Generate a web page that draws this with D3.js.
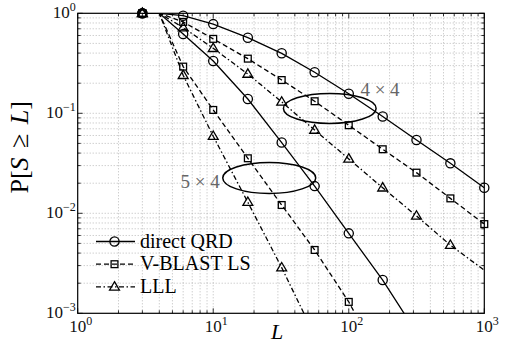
<!DOCTYPE html>
<html>
<head>
<meta charset="utf-8">
<script src="https://cdn.jsdelivr.net/npm/d3@7"></script>
<style>
  body { margin: 0; background: #fff; }
</style>
</head>
<body>
<div id="chart"></div>
<script>
// list sizes L where the curves are evaluated
const Lvals = [3, 4, 6, 10, 18, 32, 56, 100, 178, 316, 562, 1000];
const markerL = [3, 6, 10, 18, 32, 56, 100, 178, 316, 562, 1000];

// P[S >= L] (null = below the plotted range)
const qrd44 = [1, 1, 0.946, 0.78, 0.57, 0.398, 0.257, 0.157, 0.093, 0.054, 0.0316, 0.018];
const vb44  = [1, 1, 0.82, 0.555, 0.352, 0.215, 0.132, 0.076, 0.0437, 0.0255, 0.0141, 0.0078];
const lll44 = [1, 1, 0.72, 0.447, 0.247, 0.13, 0.068, 0.035, 0.018, 0.0094, 0.0048, 0.0027];
const qrd54 = [1, 1, 0.62, 0.333, 0.139, 0.051, 0.0187, 0.0063, 0.00215, 0.00064, null, null];
const vb54  = [1, 1, 0.293, 0.108, 0.0355, 0.0121, 0.0043, 0.0013, 0.00031, null, null, null];
const lll54 = [1, 1, 0.24, 0.059, 0.0129, 0.00286, 0.0006, null, null, null, null, null];

const series = [
  {name: "direct QRD",  values: qrd44, dash: null,        mark: "circle",   marks: markerL},
  {name: "V-BLAST LS",  values: vb44,  dash: "5,3",       mark: "square",   marks: markerL},
  {name: "LLL",         values: lll44, dash: "5,2.5,1.5,2.5", mark: "triangle", marks: markerL.slice(0, -1)},
  {name: "direct QRD",  values: qrd54, dash: null,        mark: "circle",   marks: markerL},
  {name: "V-BLAST LS",  values: vb54,  dash: "5,3",       mark: "square",   marks: markerL},
  {name: "LLL",         values: lll54, dash: "5,2.5,1.5,2.5", mark: "triangle", marks: markerL}
];

// group annotations: centre (L, P), half axes in decades, label position (L, P)
const groups = [
  {label: "4 \u00d7 4", L: 72.4, P: 0.112, rx: 0.342, ry: 0.15, tx: 170, ty: 0.171},
  {label: "5 \u00d7 4", L: 25.9, P: 0.0226, rx: 0.343, ry: 0.155, tx: 8.0, ty: 0.0207}
];

const xTicks = [1, 10, 100, 1000];
const yTicks = [1e-3, 1e-2, 1e-1, 1];

const width = 509, height = 345;
const margin = {top: 13.3, right: 24.7, bottom: 31.7, left: 77.7};
const serif = "Liberation Serif";

const svg = d3.select("#chart").append("svg")
  .attr("width", width).attr("height", height);

function txt(g) {
  return g.append("text").style("font-family", serif);
}

const x = d3.scaleLog().domain([1, 1000]).range([margin.left, width - margin.right]);
const y = d3.scaleLog().domain([1e-3, 1]).range([height - margin.bottom, margin.top]);

const x0 = x.range()[0], x1 = x.range()[1];
const y0 = y.range()[0], y1 = y.range()[1];

// minor + major positions
const xAll = [], yAll = [];
for (let d = 1; d < 1000; d *= 10) for (let k = 1; k < 10; k++) xAll.push(d * k);
xAll.push(1000);
for (let d = 1e-3; d < 0.99; d *= 10) for (let k = 1; k < 10; k++) yAll.push(d * k);
yAll.push(1);

// grid
const grid = svg.append("g").attr("stroke", "#aaa").attr("stroke-width", 0.8)
  .attr("stroke-dasharray", "1,2");
grid.selectAll(".gx").data(xAll.slice(1, -1)).enter().append("line")
  .attr("x1", d => x(d)).attr("x2", d => x(d)).attr("y1", y0).attr("y2", y1);
grid.selectAll(".gy").data(yAll.slice(1, -1)).enter().append("line")
  .attr("y1", d => y(d)).attr("y2", d => y(d)).attr("x1", x0).attr("x2", x1);

// ticks inside on all sides
const isMajor = v => Math.abs(Math.log10(v) - Math.round(Math.log10(v))) < 1e-6;
const tk = svg.append("g").attr("stroke", "#000").attr("stroke-width", 0.8);
xAll.forEach(v => {
  const len = isMajor(v) ? 5 : 3;
  tk.append("line").attr("x1", x(v)).attr("x2", x(v)).attr("y1", y0).attr("y2", y0 - len);
  tk.append("line").attr("x1", x(v)).attr("x2", x(v)).attr("y1", y1).attr("y2", y1 + len);
});
yAll.forEach(v => {
  const len = isMajor(v) ? 5 : 3;
  tk.append("line").attr("y1", y(v)).attr("y2", y(v)).attr("x1", x0).attr("x2", x0 + len);
  tk.append("line").attr("y1", y(v)).attr("y2", y(v)).attr("x1", x1).attr("x2", x1 - len);
});

// tick labels
const xl = svg.append("g").attr("font-size", 17).attr("text-anchor", "middle").attr("fill", "#111");
xTicks.forEach(v => {
  const t = txt(xl).attr("x", x(v) + 3).attr("y", y0 + 19);
  t.append("tspan").text("10");
  t.append("tspan").attr("dy", -7).attr("font-size", 12).text(Math.round(Math.log10(v)));
});
const yl = svg.append("g").attr("font-size", 17).attr("text-anchor", "end").attr("fill", "#111");
yTicks.forEach(v => {
  const e = Math.round(Math.log10(v));
  const t = txt(yl).attr("x", x0 - 2).attr("y", y(v) + 5);
  t.append("tspan").text("10");
  t.append("tspan").attr("dy", -7).attr("font-size", 12).text(e === 0 ? "0" : "\u2212" + (-e));
});

// axis titles
txt(svg).attr("x", (x0 + x1) / 2 - 4).attr("y", 339)
  .attr("text-anchor", "middle").attr("font-size", 22).attr("font-style", "italic").text("L");
const yt = txt(svg).attr("transform", `translate(28,${(y0 + y1) / 2 - 16}) rotate(-90)`)
  .attr("text-anchor", "middle").attr("font-size", 26);
yt.append("tspan").text("P[");
yt.append("tspan").attr("font-style", "italic").text("S");
yt.append("tspan").attr("dx", 3).text(" \u2265 ");
yt.append("tspan").attr("dx", 3).attr("font-style", "italic").text("L");
yt.append("tspan").text("]");

// clip
svg.append("clipPath").attr("id", "plotclip").append("rect")
  .attr("x", x0).attr("y", y1).attr("width", x1 - x0).attr("height", y0 - y1);

// curves
const line = d3.line()
  .defined(d => d.p != null)
  .x(d => x(d.L)).y(d => y(d.p));

const plot = svg.append("g");
series.forEach(s => {
  const pts = Lvals.map((L, i) => ({L, p: s.values[i]}));
  plot.append("path").datum(pts)
    .attr("clip-path", "url(#plotclip)")
    .attr("fill", "none").attr("stroke", "#000").attr("stroke-width", 1.3)
    .attr("stroke-dasharray", s.dash)
    .attr("d", line);
});

function drawMarker(g, kind, cx, cy) {
  if (kind === "circle") {
    g.append("circle").attr("cx", cx).attr("cy", cy).attr("r", 4.6);
  } else if (kind === "square") {
    g.append("rect").attr("x", cx - 3.4).attr("y", cy - 3.4).attr("width", 6.8).attr("height", 6.8);
  } else {
    const r = 5.2;
    g.append("path").attr("d",
      `M${cx},${cy - r}L${cx + r * 0.95},${cy + r * 0.62}L${cx - r * 0.95},${cy + r * 0.62}Z`);
  }
}

const marks = svg.append("g").attr("fill", "none").attr("stroke", "#000").attr("stroke-width", 1.3);
series.forEach(s => {
  Lvals.forEach((L, i) => {
    const p = s.values[i];
    if (p == null || p < 1e-3 || !s.marks.includes(L)) return;
    drawMarker(marks, s.mark, x(L), y(p));
  });
});

// group ellipses and labels
groups.forEach(g => {
  const cx = x(g.L), cy = y(g.P);
  const rx = x(g.L * Math.pow(10, g.rx)) - cx;
  const ry = cy - y(g.P * Math.pow(10, g.ry));
  svg.append("ellipse").attr("cx", cx).attr("cy", cy).attr("rx", rx).attr("ry", ry)
    .attr("fill", "none").attr("stroke", "#000").attr("stroke-width", 1.5);
  txt(svg).attr("x", x(g.tx)).attr("y", y(g.ty) + 6)
    .attr("text-anchor", "middle").attr("font-size", 19).attr("fill", "#666")
    .text(g.label);
});

// axes box
svg.append("rect").attr("x", x0).attr("y", y1).attr("width", x1 - x0).attr("height", y0 - y1)
  .attr("fill", "none").attr("stroke", "#000").attr("stroke-width", 1.2);

// legend
const legend = svg.append("g").attr("transform", `translate(96,241.5)`);
series.slice(0, 3).forEach((s, i) => {
  const gy = i * 22.7;
  legend.append("line").attr("x1", 0).attr("x2", 39).attr("y1", gy).attr("y2", gy)
    .attr("stroke", "#000").attr("stroke-width", 1.3).attr("stroke-dasharray", s.dash);
  const mg = legend.append("g").attr("fill", "none").attr("stroke", "#000").attr("stroke-width", 1.3);
  drawMarker(mg, s.mark, 18.5, gy);
  txt(legend).attr("x", 44).attr("y", gy + 6).attr("font-size", 20)
    .text(s.name);
});
</script>
</body>
</html>
